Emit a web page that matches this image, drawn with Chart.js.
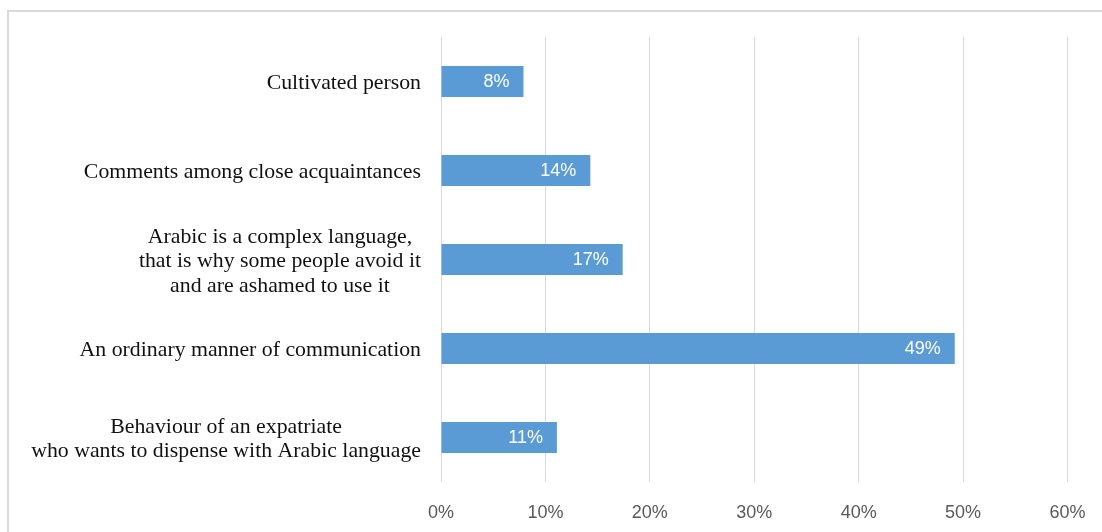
<!DOCTYPE html>
<html>
<head>
<meta charset="utf-8">
<script src="https://cdn.jsdelivr.net/npm/chart.js@4.4.1/dist/chart.umd.min.js"></script>
<style>
  html, body { margin: 0; padding: 0; background: #fff; }
  #wrap { position: relative; width: 1102px; height: 532px; overflow: hidden; }
  #frame { position: absolute; left: 7px; top: 10px; width: 1200px; height: 600px;
           border-left: 2px solid #d9d9d9; border-top: 2px solid #d9d9d9; box-sizing: border-box; }
  canvas { position: absolute; left: 0; top: 0; }
</style>
</head>
<body>
<div id="wrap">
  <div id="frame"></div>
  <canvas id="c" width="1102" height="532"></canvas>
</div>
<script>
// Survey responses: how the use of foreign words is perceived
const categories = [
  ["Cultivated person"],
  ["Comments among close acquaintances"],
  ["Arabic is a complex language,", "that is why some people avoid it", "and are ashamed to use it"],
  ["An ordinary manner of communication"],
  ["Behaviour of an expatriate", "who wants to dispense with Arabic language"]
];
const shares = [7.9, 14.3, 17.4, 49.2, 11.1];   // percent of respondents
const tickValues = [0, 10, 20, 30, 40, 50, 60];
const tickLabels = ["0%", "10%", "20%", "30%", "40%", "50%", "60%"];

// Multi-line category labels: block right-aligned to the axis, lines centred in the block
const categoryLabels = {
  id: 'categoryLabels',
  afterDraw(chart) {
    const ctx = chart.ctx;
    const y = chart.scales.y;
    const right = chart.chartArea.left - 20;
    const lh = 24.5;
    ctx.save();
    ctx.font = '21.8px "Liberation Serif", "Times New Roman", serif';
    ctx.fillStyle = '#111111';
    ctx.textAlign = 'center';
    ctx.textBaseline = 'middle';
    categories.forEach((lines, i) => {
      const w = Math.max(...lines.map(l => ctx.measureText(l).width));
      const cx = right - w / 2;
      const cy = y.getPixelForValue(i) + 2;
      const y0 = cy - (lines.length - 1) * lh / 2;
      lines.forEach((l, k) => ctx.fillText(l, cx, y0 + k * lh));
    });
    ctx.restore();
  }
};

// Value labels drawn inside the end of each bar
const valueLabels = {
  id: 'valueLabels',
  afterDatasetsDraw(chart) {
    const ctx = chart.ctx;
    const meta = chart.getDatasetMeta(0);
    ctx.save();
    ctx.font = '18px "Liberation Sans", Arial, sans-serif';
    ctx.fillStyle = '#ffffff';
    ctx.textAlign = 'right';
    ctx.textBaseline = 'middle';
    meta.data.forEach((bar, i) => {
      ctx.fillText(Math.round(shares[i]) + '%', bar.x - 14, bar.y + 1);
    });
    ctx.restore();
  }
};

new Chart(document.getElementById('c'), {
  type: 'bar',
  data: {
    labels: categories.map(c => c.join(' ')),
    datasets: [{
      data: shares,
      backgroundColor: '#5b9bd5',
      borderWidth: 0,
      barPercentage: 0.7,
      categoryPercentage: 0.5
    }]
  },
  options: {
    indexAxis: 'y',
    responsive: false,
    animation: false,
    layout: { padding: { top: 37, right: 34.5, bottom: 0, left: 0 } },
    plugins: { legend: { display: false }, tooltip: { enabled: false } },
    scales: {
      x: {
        min: 0, max: 60,
        afterBuildTicks(scale) { scale.ticks = tickValues.map(v => ({ value: v })); },
        afterFit(scale) {
          scale.height = 50;
          scale.paddingLeft = 0;
          scale.paddingRight = 0;
        },
        grid: { color: '#d9d9d9', lineWidth: 1, drawTicks: false },
        border: { display: false },
        ticks: {
          padding: 20,
          color: '#595959',
          font: { family: '"Liberation Sans", Arial, sans-serif', size: 18 },
          callback: (v) => tickLabels[tickValues.indexOf(v)]
        }
      },
      y: {
        afterFit(scale) { scale.width = 441; },
        grid: { display: false },
        border: { display: false },
        ticks: { display: false }
      }
    }
  },
  plugins: [categoryLabels, valueLabels]
});
</script>
</body>
</html>
